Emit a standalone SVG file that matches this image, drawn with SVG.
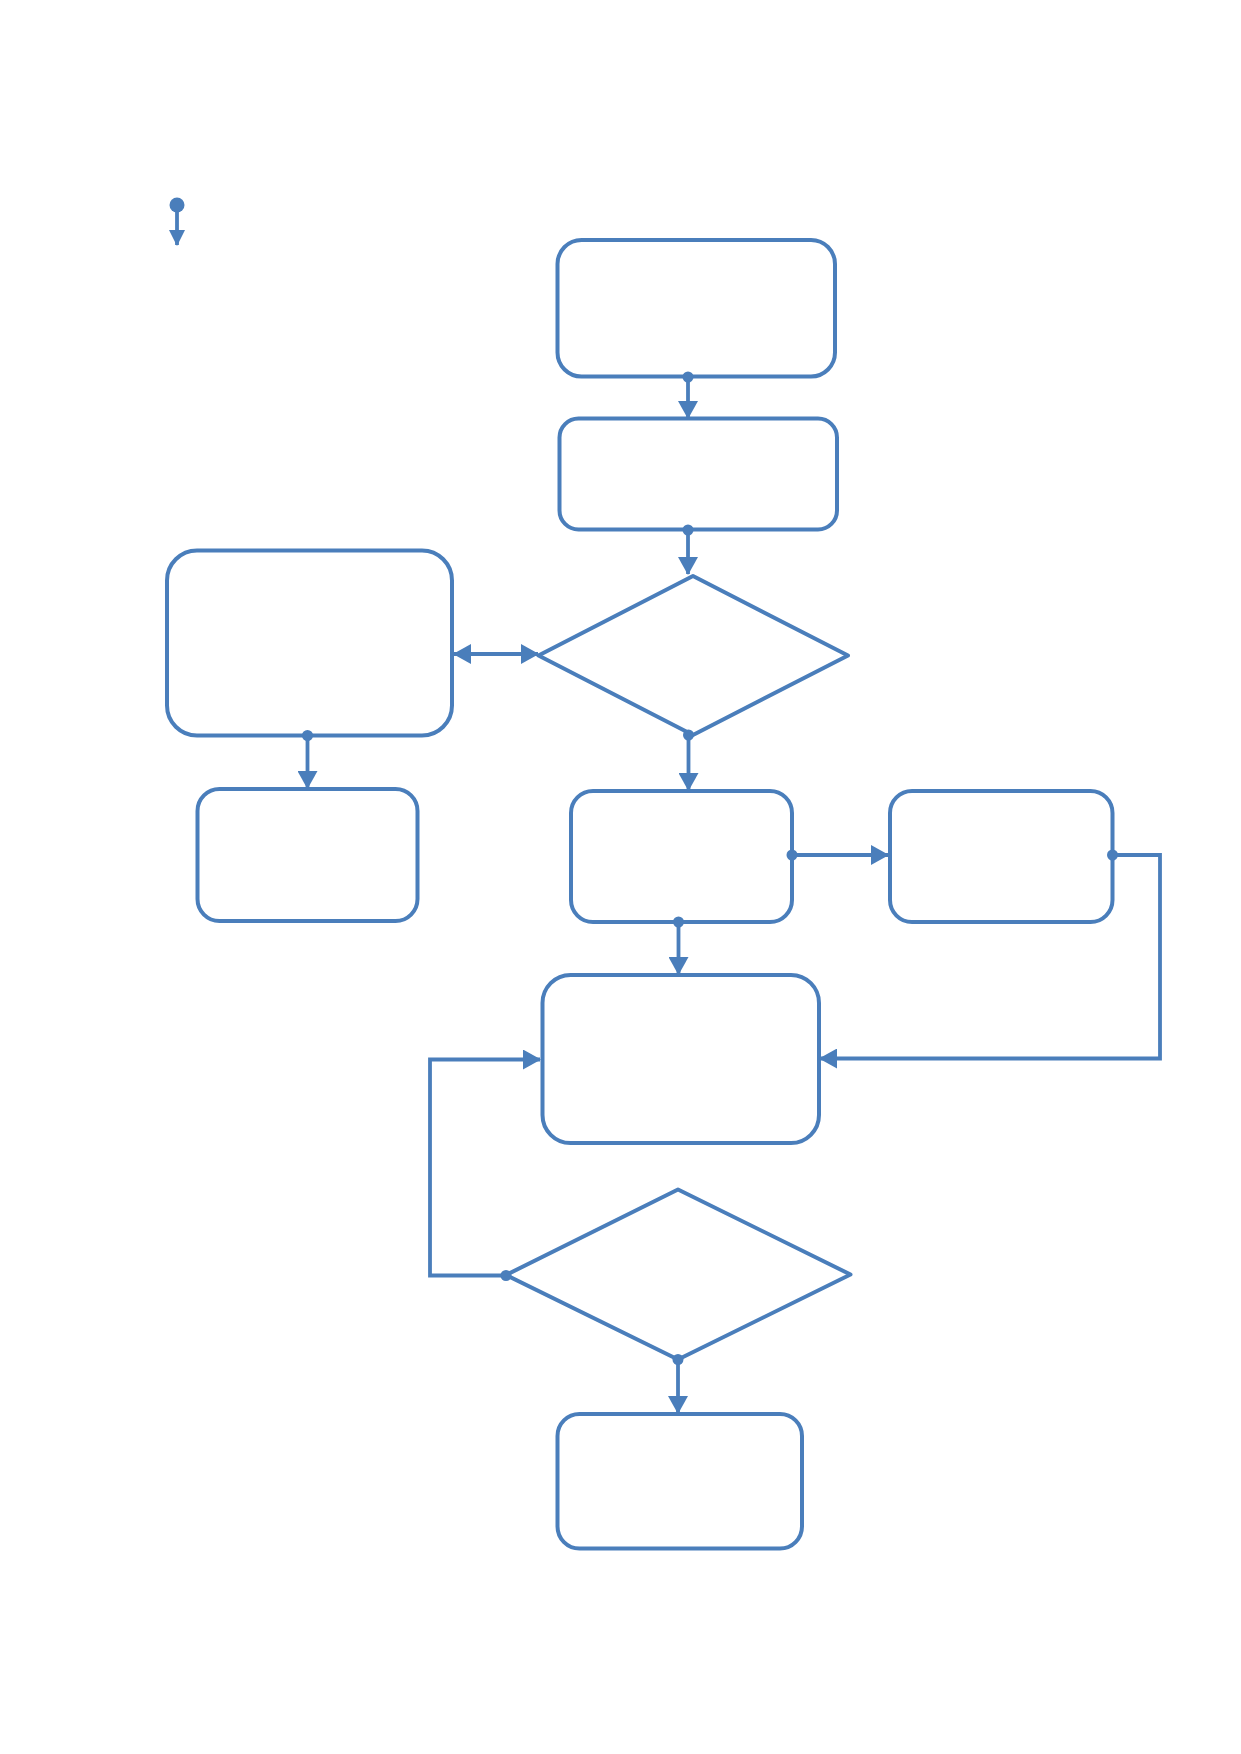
<svg xmlns="http://www.w3.org/2000/svg" width="1241" height="1754" viewBox="0 0 1241 1754">
<style>
.node{fill:#ffffff;stroke:#4A7EBB;stroke-width:4;stroke-linejoin:round}
.conn{fill:none;stroke:#4A7EBB;stroke-width:3.8}
.dot{fill:#4A7EBB}
</style>
<defs>
<marker id="arr" markerUnits="userSpaceOnUse" markerWidth="18" markerHeight="20" refX="17" refY="10" orient="auto-start-reverse" viewBox="0 0 18 20">
<path d="M0,0 L18,10 L0,20 z" fill="#4A7EBB"/>
</marker>
<marker id="arrS" markerUnits="userSpaceOnUse" markerWidth="16" markerHeight="16" refX="15" refY="8" orient="auto" viewBox="0 0 16 16">
<path d="M0,0 L16,8 L0,16 z" fill="#4A7EBB"/>
</marker>
</defs>
<rect width="1241" height="1754" fill="#ffffff"/>
<g id="legend">
<line class="conn" x1="177" y1="205" x2="177" y2="245" marker-end="url(#arrS)"/>
<circle class="dot" cx="177" cy="205" r="7.5"/>
</g>
<g id="box1"><rect class="node" x="557.5" y="240" width="277.5" height="136.5" rx="24"/></g>
<g id="box2"><rect class="node" x="559.5" y="418.5" width="277.5" height="111" rx="19"/></g>
<g id="diamond1"><polygon class="node" points="693,576 848,655.5 693,735 538.5,655.5"/></g>
<g id="boxLeft"><rect class="node" x="167" y="550.5" width="285" height="185" rx="30"/></g>
<g id="boxSmallLeft"><rect class="node" x="197.5" y="789" width="220" height="132" rx="22"/></g>
<g id="box5"><rect class="node" x="571" y="791" width="221" height="131" rx="22"/></g>
<g id="box6"><rect class="node" x="890" y="791" width="222.5" height="131" rx="22"/></g>
<g id="box7"><rect class="node" x="542.5" y="975" width="276.5" height="168" rx="28"/></g>
<g id="diamond2"><polygon class="node" points="678,1189.5 850.5,1274.5 678,1359.5 506,1275"/></g>
<g id="box8"><rect class="node" x="557.5" y="1414" width="244.5" height="134.5" rx="22"/></g>
<g id="connectors">
<line class="conn" x1="688" y1="377" x2="688" y2="418" marker-end="url(#arr)"/>
<circle class="dot" cx="688" cy="377" r="5.5"/>
<line class="conn" x1="688" y1="530" x2="688" y2="574" marker-end="url(#arr)"/>
<circle class="dot" cx="688" cy="530" r="5.5"/>
<line class="conn" x1="454" y1="654" x2="538" y2="654" marker-start="url(#arr)" marker-end="url(#arr)"/>
<line class="conn" x1="307.5" y1="735.5" x2="307.5" y2="788" marker-end="url(#arr)"/>
<circle class="dot" cx="307.5" cy="735.5" r="5.5"/>
<line class="conn" x1="688.5" y1="735" x2="688.5" y2="790" marker-end="url(#arr)"/>
<circle class="dot" cx="688.5" cy="735" r="5.5"/>
<line class="conn" x1="792" y1="855" x2="888" y2="855" marker-end="url(#arr)"/>
<circle class="dot" cx="792" cy="855" r="5.5"/>
<line class="conn" x1="678.5" y1="922" x2="678.5" y2="974" marker-end="url(#arr)"/>
<circle class="dot" cx="678.5" cy="922" r="5.5"/>
<polyline class="conn" points="1112.5,855 1160,855 1160,1058.5 820,1058.5" marker-end="url(#arr)"/>
<circle class="dot" cx="1112.5" cy="855" r="5.5"/>
<polyline class="conn" points="506,1275.5 430,1275.5 430,1059.5 540,1059.5" marker-end="url(#arr)"/>
<circle class="dot" cx="506" cy="1275.5" r="5.5"/>
<line class="conn" x1="678" y1="1359.5" x2="678" y2="1413" marker-end="url(#arr)"/>
<circle class="dot" cx="678" cy="1359.5" r="5.5"/>
</g>
</svg>
